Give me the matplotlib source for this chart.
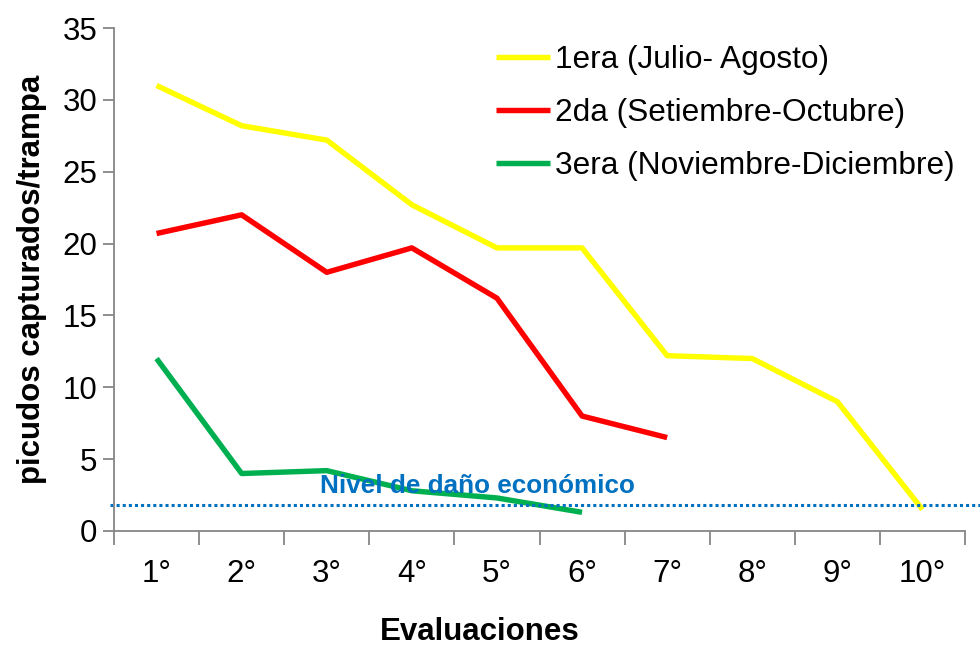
import numpy as np
import matplotlib.pyplot as plt

plt.rcParams['font.family'] = ['Liberation Sans', 'DejaVu Sans']

evaluaciones = ['1°', '2°', '3°', '4°', '5°', '6°', '7°', '8°', '9°', '10°']
primera = [31.0, 28.2, 27.2, 22.7, 19.7, 19.7, 12.2, 12.0, 9.0, 1.5]
segunda = [20.7, 22.0, 18.0, 19.7, 16.2, 8.0, 6.5]
tercera = [12.0, 4.0, 4.2, 2.8, 2.3, 1.3]
nivel_dano = 1.8

series = [
    ('1era (Julio- Agosto)', primera, '#FFFF00'),
    ('2da (Setiembre-Octubre)', segunda, '#FF0000'),
    ('3era (Noviembre-Diciembre)', tercera, '#00B050'),
]

fig = plt.figure(figsize=(9.8, 6.47), dpi=100)
ax = fig.add_axes([114/980, 1 - 531/647, 851/980, 503/647])

for nombre, valores, color in series:
    x = np.arange(1, len(valores) + 1)
    ax.plot(x, valores, color=color, lw=3.9, label=nombre, solid_capstyle='butt')

ax.plot([0.45, 10.68], [nivel_dano, nivel_dano], color='#0070C0', lw=2.2,
        linestyle=(0, (1, 1)), clip_on=False)
ax.text(2.92, 3.1, 'Nivel de daño económico', color='#0070C0',
        fontsize=18.8, fontweight='bold', va='center', ha='left')

ax.set_xlim(0.5, 10.5)
ax.set_ylim(0, 35)
ax.set_yticks(range(0, 36, 5))
ax.set_xticks(np.arange(0.5, 11, 1))
ax.set_xticklabels([])
ax.set_xticks(np.arange(1, 11), minor=True)
ax.set_xticklabels(evaluaciones, minor=True)
ax.tick_params(axis='x', which='major', length=10, width=1.3, color='#868686', direction='out')
ax.tick_params(axis='x', which='minor', length=0, pad=20, labelsize=22.5)
ax.tick_params(axis='y', length=8, width=1.3, color='#868686', labelsize=22.5, pad=4)

for s in ['top', 'right']:
    ax.spines[s].set_visible(False)
for s in ['left', 'bottom']:
    ax.spines[s].set_color('#868686')
    ax.spines[s].set_linewidth(1.3)

ax.set_ylabel('picudos capturados/trampa', fontsize=22.5, fontweight='bold', labelpad=11)
fig.text(480/980, 1 - 632/647, 'Evaluaciones', fontsize=22.5, fontweight='bold',
         ha='center', va='center')

leg = ax.legend(loc='upper left', bbox_to_anchor=(496/980, 1 - 45/647),
                bbox_transform=fig.transFigure, frameon=False, fontsize=22.8,
                handlelength=1.7, handletextpad=0.16, labelspacing=0.72,
                borderpad=0, borderaxespad=0)

fig.savefig('out.png', dpi=100)
